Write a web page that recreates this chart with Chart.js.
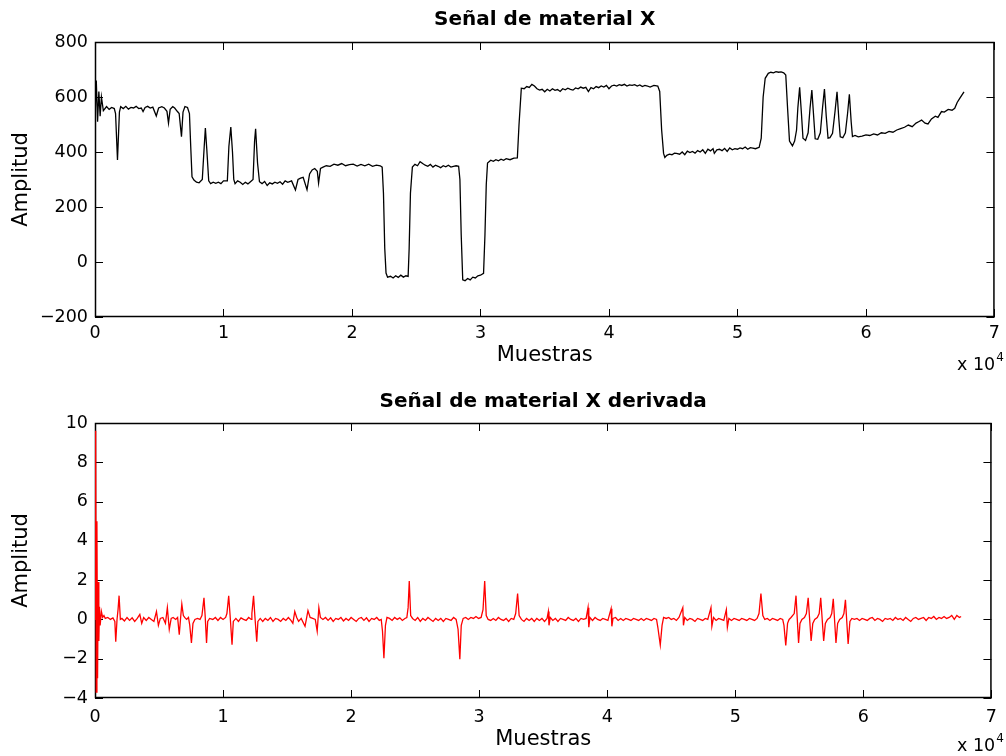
<!DOCTYPE html>
<html>
<head>
<meta charset="utf-8">
<title>Señal de material X</title>
<script src="https://cdn.jsdelivr.net/npm/chart.js@4.4.1/dist/chart.umd.min.js"></script>
<style>
    html, body { margin: 0; padding: 0; background: #fff; }
    #wrap { position: relative; width: 1006px; height: 756px; }
    canvas { position: absolute; left: 0; }
    #signalChart { top: 0; }
    #derivChart { top: 378px; }
</style>
</head>
<body>
<div id="wrap">
    <canvas id="signalChart" width="1006" height="378"></canvas>
    <canvas id="derivChart" width="1006" height="378"></canvas>
</div>
<script>
// muestras (eje x) y amplitud de la señal original
var signalX = [
    0, 100, 200, 300, 400, 500, 650, 900, 1100, 1300,
    1500, 1600, 1750, 1900, 2000, 2200, 2400, 2600, 2800, 3000,
    3200, 3400, 3600, 3740, 3900, 4100, 4300, 4500, 4770, 4950,
    5200, 5400, 5600, 5720, 5850, 6050, 6200, 6400, 6550, 6730,
    6850, 7000, 7200, 7350, 7450, 7550, 7700, 7900, 8100, 8350,
    8500, 8590, 8700, 8850, 9000, 9200, 9400, 9600, 9800, 10000,
    10300, 10420, 10570, 10700, 10800, 10900, 11100, 11300, 11500, 11700,
    11900, 12100, 12300, 12420, 12500, 12650, 12800, 13000, 13200, 13400,
    13600, 13800, 14000, 14200, 14400, 14600, 14800, 15000, 15300, 15600,
    15800, 16000, 16200, 16500, 16700, 16900, 17100, 17300, 17400, 17550,
    17750, 18000, 18300, 18600, 18900, 19200, 19500, 19800, 20100, 20400,
    20700, 21000, 21300, 21600, 21900, 22200, 22350, 22450, 22550, 22650,
    22770, 23000, 23200, 23400, 23600, 23800, 24000, 24200, 24370, 24450,
    24550, 24700, 24900, 25100, 25300, 25500, 25700, 25900, 26100, 26300,
    26500, 26700, 26900, 27100, 27300, 27500, 27700, 27900, 28100, 28300,
    28400, 28500, 28620, 28800, 29000, 29200, 29400, 29600, 29800, 30000,
    30240, 30350, 30450, 30550, 30800, 31000, 31200, 31400, 31600, 31800,
    32000, 32300, 32600, 32870, 33000, 33180, 33400, 33600, 33800, 34000,
    34200, 34400, 34600, 34800, 35000, 35200, 35400, 35600, 35800, 36000,
    36200, 36400, 36600, 36800, 37000, 37200, 37400, 37600, 37800, 38000,
    38200, 38400, 38600, 38800, 39000, 39200, 39400, 39600, 39800, 40000,
    40200, 40400, 40600, 40800, 41000, 41200, 41400, 41600, 41800, 42000,
    42200, 42400, 42600, 42800, 43000, 43200, 43500, 43800, 43950, 44100,
    44250, 44350, 44500, 44700, 44900, 45100, 45250, 45500, 45700, 45900,
    46100, 46300, 46500, 46700, 46900, 47100, 47300, 47500, 47700, 47900,
    48100, 48200, 48400, 48600, 48800, 49000, 49200, 49400, 49600, 49800,
    50000, 50200, 50400, 50600, 50800, 51000, 51200, 51400, 51690, 51850,
    52000, 52160, 52400, 52600, 52800, 53000, 53200, 53400, 53600, 53760,
    53900, 54050, 54280, 54450, 54600, 54700, 54840, 54980, 55100, 55300,
    55500, 55650, 55790, 55930, 56050, 56250, 56450, 56620, 56770, 56910,
    57050, 57200, 57400, 57600, 57750, 57890, 58000, 58200, 58400, 58570,
    58710, 58850, 58950, 59150, 59400, 59700, 60000, 60300, 60600, 60900,
    61200, 61500, 61800, 62100, 62400, 62700, 63000, 63300, 63600, 63900,
    64100, 64330, 64600, 64830, 65100, 65400, 65600, 65880, 66100, 66400,
    66700, 66910, 67100, 67300, 67630
];
var signalY = [
    520, 660, 510, 620, 530, 600, 550, 565, 555, 562,
    558, 540, 371, 545, 565, 558, 566, 556, 562, 560,
    566, 558, 560, 547, 562, 566, 560, 563, 531, 560,
    565, 560, 548, 505, 555, 565, 560, 548, 540, 456,
    545, 565, 562, 540, 420, 310, 298, 290, 288, 300,
    420, 487, 410, 295, 285, 290, 286, 290, 285, 295,
    295, 420, 491, 400, 300, 285, 295, 290, 282, 290,
    284, 292, 300, 440, 484, 360, 292, 285, 293, 278,
    288, 284, 290, 286, 292, 283, 295, 290, 295, 262,
    300, 305, 308, 263, 320, 335, 340, 330, 287, 340,
    345, 350, 348, 356, 352, 358, 350, 354, 356, 349,
    355, 350, 356, 348, 352, 350, 345, 250, 50, -40,
    -55, -52, -58, -50, -56, -48, -55, -50, -52, 50,
    250, 345, 355, 350, 365, 358, 352, 348, 355, 345,
    352, 348, 343, 350, 346, 352, 345, 348, 350, 348,
    300, 100, -65, -68, -60, -65, -55, -58, -50, -48,
    -41, 100, 280, 360, 370, 366, 372, 368, 374, 370,
    376, 372, 378, 379, 500, 632, 630, 638, 635, 646,
    640, 630, 625, 628, 619, 628, 622, 630, 624, 627,
    620, 630, 626, 632, 628, 625, 633, 630, 636, 632,
    635, 620, 634, 630, 638, 634, 640, 636, 642, 630,
    640, 643, 640, 645, 642, 646, 640, 644, 642, 645,
    640, 644, 638, 642, 640, 636, 642, 640, 620, 480,
    395, 380, 388, 392, 390, 396, 395, 392, 400, 390,
    403, 398, 402, 396, 405, 400, 408, 395, 410, 404,
    412, 395, 408, 410, 405, 413, 402, 415, 408, 412,
    410, 415, 412, 418, 410, 416, 414, 412, 417, 450,
    600, 668, 686, 690, 688, 692, 690, 691, 688, 680,
    560, 440, 422, 440, 480, 560, 635, 540, 450, 442,
    470, 560, 625, 530, 448, 446, 470, 560, 629, 530,
    450, 452, 468, 550, 619, 520, 455, 452, 470, 540,
    610, 510, 456, 460, 455, 458, 462, 460, 466, 462,
    470, 468, 475, 472, 480, 485, 490, 498, 492, 505,
    510, 516, 505, 502, 520, 530, 526, 547, 545, 555,
    552, 559, 580, 595, 619
];

// muestras y amplitud de la señal derivada
var derivX = [
    0, 50, 100, 150, 200, 250, 300, 350, 400, 500,
    600, 700, 800, 1000, 1200, 1400, 1550, 1620, 1720, 1800,
    1880, 1980, 2100, 2300, 2500, 2700, 2900, 3100, 3300, 3500,
    3650, 3800, 4000, 4200, 4400, 4600, 4800, 4950, 5100, 5300,
    5500, 5650, 5800, 5950, 6100, 6300, 6450, 6580, 6700, 6780,
    6900, 7000, 7150, 7300, 7400, 7530, 7650, 7800, 8000, 8200,
    8350, 8510, 8600, 8710, 8800, 8950, 9200, 9400, 9600, 9800,
    10000, 10200, 10300, 10440, 10550, 10700, 10800, 11000, 11200, 11400,
    11600, 11800, 12000, 12200, 12250, 12380, 12480, 12630, 12720, 12900,
    13100, 13300, 13500, 13700, 13900, 14100, 14300, 14500, 14700, 14900,
    15100, 15300, 15450, 15600, 15750, 15900, 16100, 16400, 16630, 16800,
    17000, 17200, 17350, 17480, 17600, 17800, 18000, 18200, 18400, 18600,
    18800, 19000, 19200, 19400, 19600, 19800, 20000, 20200, 20400, 20600,
    20800, 21000, 21200, 21400, 21600, 21800, 22000, 22200, 22350, 22450,
    22560, 22680, 22800, 23000, 23200, 23400, 23600, 23800, 24000, 24200,
    24350, 24450, 24540, 24650, 24800, 25000, 25200, 25400, 25600, 25800,
    26000, 26200, 26400, 26600, 26800, 27000, 27200, 27400, 27600, 27800,
    28000, 28200, 28350, 28490, 28600, 28750, 28950, 29150, 29350, 29550,
    29750, 29950, 30150, 30300, 30430, 30550, 30700, 30900, 31100, 31300,
    31500, 31700, 31900, 32100, 32300, 32500, 32700, 32850, 33000, 33120,
    33300, 33500, 33700, 33900, 34100, 34300, 34500, 34700, 34900, 35100,
    35300, 35400, 35450, 35550, 35750, 35950, 36150, 36350, 36550, 36750,
    36950, 37150, 37350, 37550, 37750, 37950, 38150, 38350, 38500, 38560,
    38650, 38850, 39050, 39250, 39450, 39650, 39850, 40050, 40300, 40360,
    40450, 40650, 40850, 41050, 41250, 41450, 41650, 41850, 42050, 42250,
    42450, 42650, 42850, 43050, 43250, 43450, 43650, 43850, 43950, 44140,
    44280, 44400, 44600, 44800, 45000, 45200, 45400, 45600, 45900, 45950,
    46050, 46250, 46450, 46650, 46850, 47050, 47250, 47450, 47650, 47850,
    48100, 48170, 48300, 48500, 48700, 48900, 49100, 49300, 49380, 49500,
    49700, 49900, 50100, 50300, 50500, 50700, 50900, 51100, 51300, 51500,
    51700, 51850, 52000, 52150, 52300, 52500, 52700, 52900, 53100, 53300,
    53500, 53700, 53800, 53940, 54080, 54200, 54350, 54600, 54740, 54940,
    55050, 55200, 55400, 55550, 55690, 55920, 56050, 56200, 56400, 56550,
    56670, 56900, 57030, 57200, 57400, 57530, 57650, 57860, 57990, 58150,
    58350, 58480, 58600, 58810, 58950, 59100, 59300, 59500, 59700, 59900,
    60100, 60300, 60500, 60700, 60900, 61100, 61300, 61500, 61700, 61900,
    62100, 62300, 62500, 62700, 62900, 63100, 63300, 63500, 63700, 63900,
    64100, 64300, 64500, 64700, 64900, 65100, 65300, 65500, 65700, 65900,
    66100, 66300, 66500, 66700, 66900, 67100, 67300, 67500, 67630
];
var derivY = [
    0, 9.6, -3.7, 5, -3, 1.9, -1.1, 0.65, -0.3, 0.4,
    0.1, 0.2, 0.05, 0.1, 0, 0.08, -0.1, -1.13, 0, 0.5,
    1.21, 0, 0.05, -0.08, 0.1, -0.05, 0.08, -0.1, 0.05, 0.25,
    -0.2, 0.1, -0.05, 0.1, 0, -0.1, 0.4, -0.3, 0.05, 0.1,
    -0.2, 0.6, -0.5, 0.05, 0.1, 0, 0.1, -0.78, 0.2, 0.78,
    0.2, 0.1, 0, 0.1, -0.3, -1.2, -0.2, 0, 0.05, 0,
    0.2, 1.1, 0.2, -1.2, -0.1, 0.05, 0, 0.1, -0.05, 0.1,
    0, 0.1, 0.3, 1.2, 0.2, -1.29, -0.1, 0.05, -0.1, 0.08,
    0, -0.05, 0.1, 0, 0.3, 1.2, 0.2, -1.13, -0.1, 0.05,
    -0.1, 0.05, -0.05, 0.1, -0.1, 0.05, 0, -0.1, 0.05, -0.05,
    0.1, -0.05, -0.2, 0.4, 0.1, -0.1, 0.05, -0.35, 0.45, 0.1,
    0.05, 0, -0.6, 0.6, 0.1, 0, 0.1, -0.05, 0.08, -0.1,
    0.05, 0, 0.1, -0.08, 0.05, -0.05, 0.1, 0, -0.1, 0.05,
    0.1, -0.05, 0.08, -0.1, 0.05, 0, 0.1, -0.05, 0, -0.6,
    -1.98, -0.3, 0.1, 0.05, -0.05, 0.1, 0, 0.08, -0.05, 0.05,
    0.1, 0.6, 1.96, 0.2, 0.05, -0.05, 0.1, -0.1, 0.05, -0.05,
    0.1, 0, -0.1, 0.05, -0.05, 0.05, -0.1, 0.05, 0, -0.05,
    0.1, 0, -0.5, -2.03, -0.3, 0.05, 0.1, 0, 0.1, 0.05,
    0.15, 0.05, 0.1, 0.5, 1.96, 0.2, 0, -0.05, 0.05, -0.05,
    0.1, 0, -0.05, 0.05, -0.1, 0.05, 0, 0.3, 1.32, 0.2,
    0, -0.1, 0.05, -0.05, 0.05, -0.1, 0.05, -0.05, 0.05, -0.1,
    0.05, 0.4, -0.3, 0.1, -0.05, 0.05, -0.1, 0.05, 0, -0.05,
    0.1, 0, -0.05, 0.05, -0.1, 0.05, 0, 0.05, 0.6, -0.4,
    0.1, -0.05, 0.1, 0, -0.05, 0.05, 0, -0.05, 0.55, -0.35,
    0.05, 0.1, -0.05, 0.05, -0.05, 0.05, 0, -0.05, 0.05, 0,
    -0.05, 0.05, -0.05, 0.05, 0, -0.05, 0.05, 0, -0.4, -1.3,
    -0.3, 0.1, 0.05, 0.1, 0, 0.05, -0.05, 0.1, 0.6, -0.3,
    0.1, -0.05, 0.05, 0, -0.1, 0.05, 0, -0.05, 0.05, 0,
    0.6, -0.35, 0.1, -0.05, 0.05, 0, -0.05, 0.5, -0.4, 0.05,
    -0.05, 0.05, 0, -0.05, 0.05, 0, -0.05, 0.05, 0, -0.05,
    0.05, 0.3, 1.32, 0.2, 0, 0.05, -0.05, 0.05, 0, -0.05,
    0.05, 0, -0.3, -1.33, -0.2, 0, 0.1, 0.3, 1.21, -1.2,
    -0.2, 0, 0.1, 0.3, 1.1, -1.1, -0.2, 0, 0.1, 0.3,
    1.1, -1.1, -0.2, 0, 0.1, 0.3, 1.05, -1.2, -0.2, 0,
    0.1, 0.3, 1.0, -1.25, -0.1, 0.05, 0, 0.05, -0.05, 0.05,
    0, -0.05, 0.05, 0.1, -0.05, 0.05, 0, -0.1, 0.05, 0,
    0.05, -0.05, 0.1, 0, 0.05, -0.05, 0.1, 0, -0.1, 0.05,
    0.1, 0, 0.05, 0.1, -0.05, 0.1, 0.05, 0.15, 0, 0.1,
    0.05, 0.15, 0.05, 0.1, 0.2, 0, 0.2, 0.1, 0.15
];

// límites y pasos de los ejes
var xRange = [0, 70000];
var xStep = 10000;
var signalRange = [-200, 800];
var signalStep = 200;
var derivRange = [-4, 10];
var derivStep = 2;

var FONT = "'DejaVu Sans', sans-serif";
Chart.defaults.font.family = FONT;
Chart.defaults.color = '#000';

// marco negro con marcas hacia dentro en los cuatro lados (estilo MATLAB)
var frameTicks = {
    id: 'frameTicks',
    beforeDatasetsDraw: function (chart) {
        var ctx = chart.ctx, a = chart.chartArea;
        var xs = chart.scales.x, ys = chart.scales.y;
        var len = 8;
        ctx.save();
        ctx.strokeStyle = '#000';
        ctx.lineWidth = 1;
        ctx.beginPath();
        xs.ticks.forEach(function (t) {
            var px = Math.round(xs.getPixelForValue(t.value)) + 0.5;
            ctx.moveTo(px, a.bottom); ctx.lineTo(px, a.bottom - len);
            ctx.moveTo(px, a.top); ctx.lineTo(px, a.top + len);
        });
        ys.ticks.forEach(function (t) {
            var py = Math.round(ys.getPixelForValue(t.value)) + 0.5;
            ctx.moveTo(a.left, py); ctx.lineTo(a.left + len, py);
            ctx.moveTo(a.right, py); ctx.lineTo(a.right - len, py);
        });
        ctx.stroke();
        ctx.lineWidth = 1.5;
        ctx.strokeRect(a.left + 0.5, a.top + 0.5, a.right - a.left - 1, a.bottom - a.top - 1);
        ctx.restore();
    }
};

// factor de escala "x 10^4" bajo el extremo derecho del eje x
var expLabel = {
    id: 'expLabel',
    afterDraw: function (chart, args, opts) {
        var ctx = chart.ctx, a = chart.chartArea;
        ctx.save();
        ctx.fillStyle = '#000';
        ctx.textBaseline = 'alphabetic';
        ctx.textAlign = 'left';
        ctx.font = '17.5px ' + FONT;
        var base = a.bottom + opts.dy;
        var x0 = 957;
        ctx.fillText('x 10', x0, base);
        var w = ctx.measureText('x 10').width;
        ctx.font = '12px ' + FONT;
        ctx.fillText('4', x0 + w + 1, base - 9);
        ctx.restore();
    }
};

function minusSign(v) {
    return String(v).replace('-', '\u2212');
}

function makeChart(id, title, xs, ys, color, yRange, yStep, lay) {
    var points = xs.map(function (x, i) { return {x: x, y: ys[i]}; });
    return new Chart(document.getElementById(id), {
        type: 'line',
        data: {
            datasets: [{
                data: points,
                borderColor: color,
                borderWidth: 1.3,
                pointRadius: 0,
                tension: 0,
                fill: false
            }]
        },
        plugins: [frameTicks, expLabel],
        options: {
            responsive: false,
            animation: false,
            events: [],
            layout: {padding: {left: 0, right: 6, top: 0, bottom: 0}},
            plugins: {
                legend: {display: false},
                tooltip: {enabled: false},
                title: {
                    display: true,
                    text: title,
                    fullSize: false,
                    color: '#000',
                    font: {size: 20, weight: 'bold', family: FONT},
                    padding: {top: lay.titleTop, bottom: lay.titleBottom}
                },
                expLabel: {dy: lay.expDy}
            },
            scales: {
                x: {
                    type: 'linear',
                    min: xRange[0],
                    max: xRange[1],
                    grid: {display: false, drawTicks: false},
                    border: {display: false},
                    ticks: {
                        stepSize: xStep,
                        padding: lay.xTickPad,
                        maxRotation: 0,
                        font: {size: 17.5},
                        callback: function (v) { return v / 10000; }
                    },
                    title: {
                        display: true,
                        text: 'Muestras',
                        font: {size: 21},
                        padding: {top: 0, bottom: lay.xTitlePad}
                    },
                    afterFit: function (s) { s.height = lay.xHeight; }
                },
                y: {
                    min: yRange[0],
                    max: yRange[1],
                    grid: {display: false, drawTicks: false},
                    border: {display: false},
                    ticks: {
                        stepSize: yStep,
                        padding: 7,
                        font: {size: 17.5},
                        callback: minusSign
                    },
                    title: {
                        display: true,
                        text: 'Amplitud',
                        font: {size: 21},
                        padding: {top: 9, bottom: 0}
                    },
                    afterFit: function (s) { s.width = 95; }
                }
            }
        }
    });
}

makeChart('signalChart', 'Señal de material X', signalX, signalY, '#000000',
    signalRange, signalStep,
    {titleTop: 8, titleBottom: 10, xHeight: 61, xTickPad: 6, xTitlePad: 10, expDy: 53});

makeChart('derivChart', 'Señal de material X derivada', derivX, derivY, '#ff0000',
    derivRange, derivStep,
    {titleTop: 12, titleBottom: 9, xHeight: 58, xTickPad: 9, xTitlePad: 4, expDy: 53});
</script>
</body>
</html>
